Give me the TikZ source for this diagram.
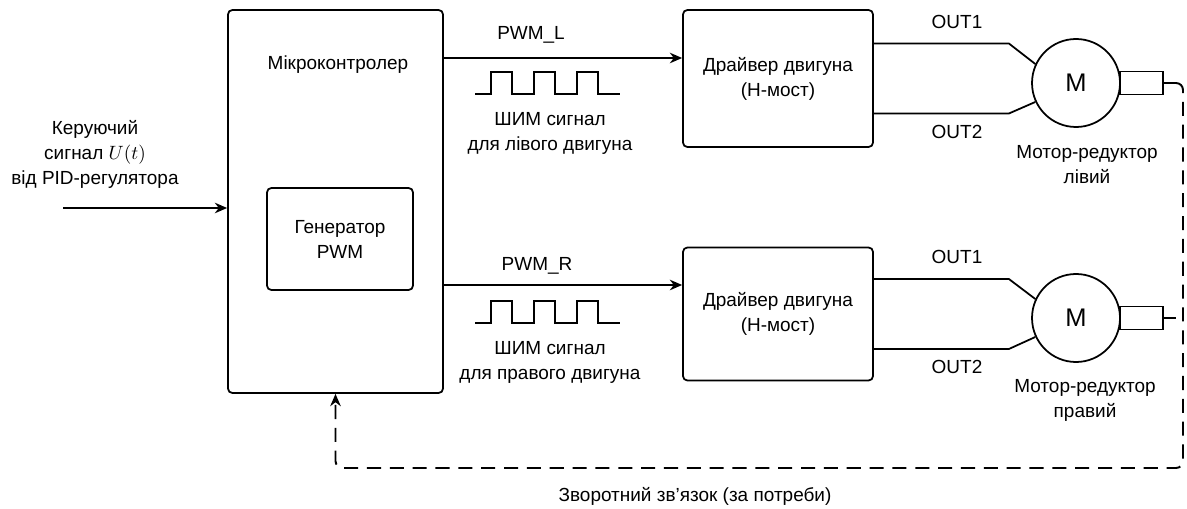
\documentclass[tikz,border=0pt]{standalone}
\usepackage{fontspec}
\setmainfont{Liberation Sans}
\usetikzlibrary{arrows.meta, positioning, calc}
\tikzset{
    % Box styles with small rounded corners
    block/.style={
        rectangle,
        rounded corners=2.5pt,
        draw=black,
        fill=white,
        line width=1pt,
        align=center,
        font=\fontsize{10.8}{14.2}\selectfont
    },
    motor/.style={
        circle,
        draw=black,
        fill=white,
        line width=1pt,
        minimum size=1.76cm,
        inner sep=0pt,
        font=\fontsize{14.5}{16}\selectfont
    },
    shaft/.style={
        rectangle,
        draw=black,
        line width=1pt,
        minimum width=0.86cm,
        minimum height=0.46cm,
        inner sep=0pt,
        anchor=west
    },
    note/.style={
        align=center,
        inner sep=1pt,
        font=\fontsize{10.8}{14.2}\selectfont
    },
    wire/.style={
        line width=1pt,
        black
    },
    arrow style/.style={
        -{Stealth[length=7pt, width=6pt]},
        line width=1.1pt,
        black
    },
    feedback style/.style={
        arrow style,
        dash pattern=on 8pt off 5pt,
        rounded corners=4pt
    }
}
\begin{document}
\begin{tikzpicture}
    \useasboundingbox (0,0) rectangle (23.74,10.16);

    % Microcontroller
    \node[block, minimum width=4.3cm, minimum height=7.66cm] (mcu) at (6.71, 6.13) {};
    \node[note] (mcutitle) at (6.76, 8.86) {Мікроконтролер};
    \node[block, minimum width=2.92cm, minimum height=2.04cm] (gen) at (6.80, 5.38) {
        Генератор\\
        PWM
    };

    % Input signal
    \node[note] (inlabel) at (1.90, 7.08) {
        Керуючий\\
        сигнал $U(t)$\\
        від PID-регулятора
    };
    \coordinate (insrc) at (1.26, 6.00);
    \draw[arrow style] (insrc) -- (insrc -| mcu.west);

    % Drivers
    \node[block, minimum width=3.8cm, minimum height=2.74cm] (drvL) at (15.56, 8.59) {
        Драйвер двигуна\\
        (H-мост)
    };
    \node[block, minimum width=3.8cm, minimum height=2.66cm] (drvR) at (15.56, 3.88) {
        Драйвер двигуна\\
        (H-мост)
    };

    % PWM lines
    \coordinate (pwmLrow) at (0, 9.00);
    \coordinate (pwmRrow) at (0, 4.46);
    \draw[arrow style] (mcu.east |- pwmLrow) -- (drvL.west |- pwmLrow);
    \draw[arrow style] (mcu.east |- pwmRrow) -- (drvR.west |- pwmRrow);
    \node[note] (pwmLlabel) at (10.62, 9.46) {PWM\_L};
    \node[note] (pwmRlabel) at (10.74, 4.84) {PWM\_R};

    % PWM waveforms
    \draw[wire] (9.50, 8.28) -- ++(0.32,0)
        \foreach \i in {1,2,3} { -- ++(0,0.44) -- ++(0.42,0) -- ++(0,-0.44) -- ++(0.44,0) };
    \draw[wire] (9.50, 3.70) -- ++(0.32,0)
        \foreach \i in {1,2,3} { -- ++(0,0.44) -- ++(0.42,0) -- ++(0,-0.44) -- ++(0.44,0) };
    \node[note] (waveLtext) at (11.0, 7.49) {
        ШИМ сигнал\\
        для лівого двигуна
    };
    \node[note] (waveRtext) at (11.0, 2.91) {
        ШИМ сигнал\\
        для правого двигуна
    };

    % Motors
    \node[motor] (motL) at (21.52, 8.50) {M};
    \node[motor] (motR) at (21.52, 3.80) {M};
    \node[shaft, xshift=-1pt] (shaftL) at (motL.east) {};
    \node[shaft, xshift=-1pt] (shaftR) at (motR.east) {};
    \coordinate (stubL) at ($(shaftL.east)+(0.24,0)$);
    \coordinate (stubR) at ($(shaftR.east)+(0.24,0)$);
    \draw[wire] (shaftL.east) -- (stubL);
    \draw[wire] (shaftR.east) -- (stubR);
    \node[note] (motLtext) at (21.74, 6.86) {
        Мотор-редуктор\\
        лівий
    };
    \node[note] (motRtext) at (21.70, 2.16) {
        Мотор-редуктор\\
        правий
    };

    % Driver outputs
    \draw[wire] ([yshift=0.7cm]drvL.east) -- ++(2.7,0) -- (motL.155);
    \draw[wire] ([yshift=-0.7cm]drvL.east) -- ++(2.7,0) -- (motL.205);
    \draw[wire] ([yshift=0.7cm]drvR.east) -- ++(2.7,0) -- (motR.155);
    \draw[wire] ([yshift=-0.7cm]drvR.east) -- ++(2.7,0) -- (motR.205);
    \node[note] (out1L) at (19.14, 9.72) {OUT1};
    \node[note] (out2L) at (19.14, 7.52) {OUT2};
    \node[note] (out1R) at (19.14, 5.02) {OUT1};
    \node[note] (out2R) at (19.14, 2.82) {OUT2};

    % Feedback
    \coordinate (fbcorner) at (23.66, 0.80);
    \draw[feedback style] (stubL) -| (fbcorner) -| (mcu.south);
    \node[note] (fbtext) at (13.9, 0.24) {Зворотний зв’язок (за потреби)};
\end{tikzpicture}
\end{document}
